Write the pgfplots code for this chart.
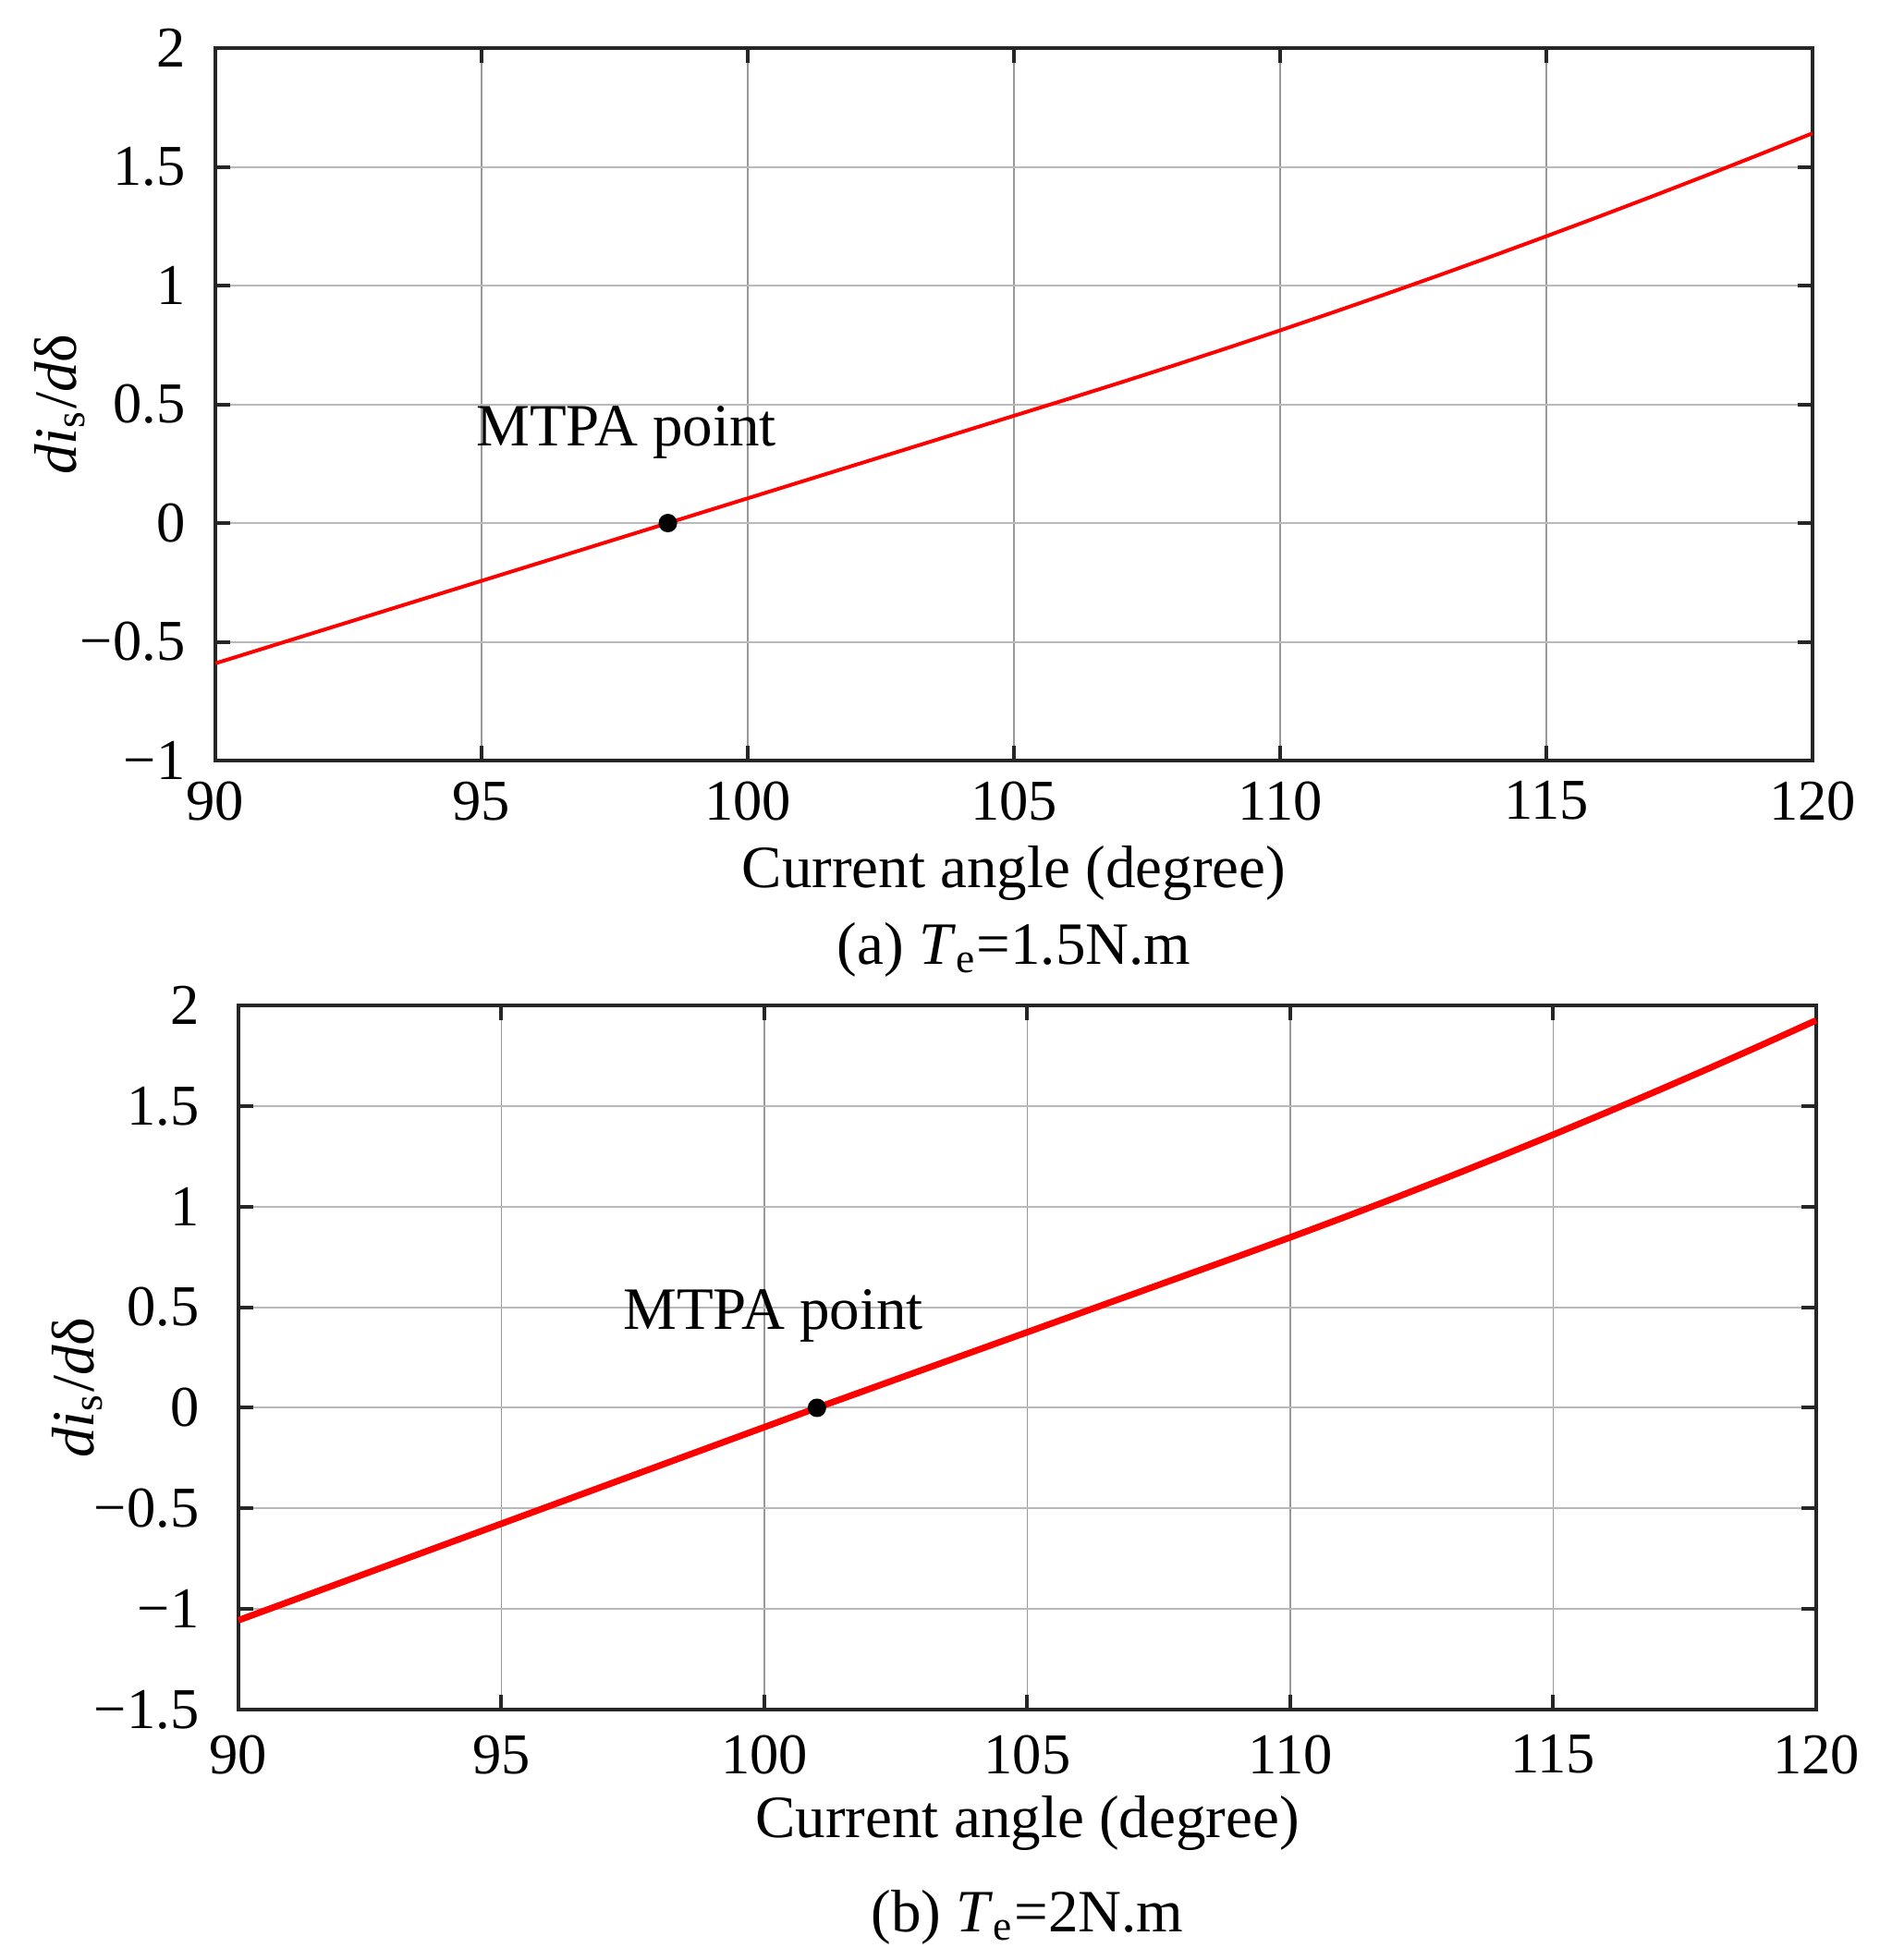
\documentclass[border=0pt]{standalone}
\usepackage{fontspec}
\setmainfont{Liberation Serif}
\usepackage{pgfplots}
\pgfplotsset{compat=1.18}

\pgfplotsset{
  mtpa/.style={
    scale only axis,
    clip=false,
    xmin=90, xmax=120,
    xtick={90,95,...,120},
    tick align=inside,
    major tick length=3.2pt,
    grid=major,
    x grid style={gray!80, line width=0.35pt},
    y grid style={gray!55, line width=0.4pt},
    axis line style={black!85, line width=0.8pt},
    every tick/.style={black!85, line width=0.8pt},
    /pgf/number format/assume math mode=true,
    tick label style={font=\fontsize{12.5}{14}\selectfont},
    label style={font=\fontsize{13}{15}\selectfont},
    xlabel={Current angle (degree)},
    ylabel={\textit{di}\textsubscript{s}/\textit{d}δ},
  },
}

\begin{document}
\begin{tikzpicture}
\useasboundingbox (0,0) rectangle (406.8pt,-424.2pt);

% (a) Te = 1.5 N.m
\begin{axis}[mtpa,
  name=top,
  at={(46.6pt,-164.6pt)}, anchor=south west,
  width=345.6pt, height=154.2pt,
  ymin=-1, ymax=2,
  ytick={-1,-0.5,...,2},
  yticklabels={−1,−0.5,0,0.5,1,1.5,2},
  xticklabel style={yshift=-1pt},
  yticklabel style={xshift=-3pt},
  xlabel style={at={([yshift=-24.4pt]axis description cs:0.5,0)}, anchor=center},
  ylabel style={at={([xshift=-33.6pt]axis description cs:0,0.5)}, anchor=center},
]
\addplot[red, line width=0.8pt] coordinates {
(90,-0.5908) (92,-0.4518) (94,-0.3128) (96,-0.1738) (98,-0.0348) (98.5,0)
(100,0.1043) (102,0.2433) (104,0.3823) (106,0.5213) (107,0.5916) (108,0.6633)
(109,0.7366) (110,0.8113) (111,0.8876) (112,0.9653) (113,1.0446) (114,1.1253)
(115,1.2076) (116,1.2913) (117,1.3766) (118,1.4633) (119,1.5516) (120,1.6413)
};
\addplot[only marks, mark=*, mark size=1.8pt, black] coordinates {(98.5,0)};
\node[font=\fontsize{13}{15}\selectfont] at (axis cs:97.72,0.38) {MTPA point};
\end{axis}
\node[font=\fontsize{13}{15}\selectfont] at ([yshift=-41pt]top.south)
  {(a) \textit{T}\textsubscript{e}=1.5N.m};

% (b) Te = 2 N.m
\begin{axis}[mtpa,
  name=bot,
  at={(51.6pt,-370pt)}, anchor=south west,
  width=341.4pt, height=152.4pt,
  ymin=-1.5, ymax=2,
  ytick={-1.5,-1,...,2},
  yticklabels={−1.5,−1,−0.5,0,0.5,1,1.5,2},
  xticklabel style={yshift=-2pt},
  yticklabel style={xshift=-5pt},
  xlabel style={at={([yshift=-24.6pt]axis description cs:0.5,0)}, anchor=center},
  ylabel style={at={([xshift=-34.8pt,yshift=-6.5pt]axis description cs:0,0.5)}, anchor=center},
]
\addplot[red, line width=1.4pt] coordinates {
(90,-1.056) (92,-0.864) (94,-0.672) (96,-0.48) (98,-0.288) (100,-0.096)
(101,0) (102,0.094) (104,0.282) (106,0.47) (108,0.658) (109,0.752)
(110,0.8472) (111,0.9446) (112,1.0444) (113,1.1465) (114,1.2509) (115,1.3577)
(116,1.4667) (117,1.5781) (118,1.6917) (119,1.8077) (120,1.926)
};
\addplot[only marks, mark=*, mark size=1.8pt, black] coordinates {(101,0)};
\node[font=\fontsize{13}{15}\selectfont] at (axis cs:100.17,0.455) {MTPA point};
\end{axis}
\node[font=\fontsize{13}{15}\selectfont] at ([yshift=-45pt]bot.south)
  {(b) \textit{T}\textsubscript{e}=2N.m};
\end{tikzpicture}
\end{document}
